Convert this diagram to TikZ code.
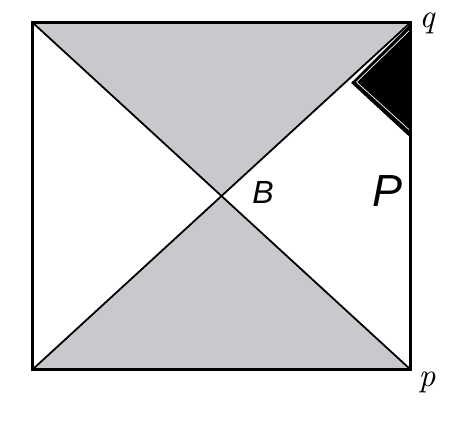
\documentclass[tikz,border=0pt]{standalone}
\usepackage{fontspec}
\newfontfamily\labelfont{Liberation Sans}
\definecolor{regiongray}{RGB}{200,201,204}
\begin{document}
\begin{tikzpicture}[x=1pt,y=-1pt,
  frame/.style={line width=3.4pt,line join=miter},
  diag/.style={line width=1.8pt},
  mathlabel/.style={inner sep=0pt,scale=3.3,font=\itshape},
  sflabel/.style={inner sep=0pt}]
\useasboundingbox (0,0) rectangle (473,432);
\coordinate (tl) at (32.5,22.5);
\coordinate (tr) at (410.5,22.5);
\coordinate (bl) at (32.5,369.5);
\coordinate (br) at (410.5,369.5);
\coordinate (c) at (221.5,196);
\coordinate (tA) at (410.5,24);
\coordinate (tL) at (352,82);
\coordinate (tB) at (410.5,136);
\coordinate (wA) at (410.5,29.5);
\coordinate (wL) at (356.5,82);
\coordinate (wB) at (410.5,131);
% shaded triangles
\fill[regiongray] (tl) -- (tr) -- (c) -- cycle;
\fill[regiongray] (bl) -- (br) -- (c) -- cycle;
% diagonals
\draw[diag] (tl) -- (br);
\draw[diag] (bl) -- (tr);
% black corner triangle
\fill[black] (tA) -- (tL) -- (tB) -- cycle;
\draw[line width=2.6pt] (tL) -- (tB);
\draw[white,line width=0.7pt] (wA) -- (wL) -- (wB);
% frame
\draw[frame] (tl) rectangle (br);
% labels
\node[mathlabel] (q) at (427,23) {q};
\node[mathlabel] (p) at (427,382) {p};
\node[sflabel,font=\labelfont\itshape\fontsize{32}{32}\selectfont] (B) at (263,192) {B};
\node[sflabel,font=\labelfont\itshape\fontsize{45}{45}\selectfont] (P) at (388,191) {P};
\end{tikzpicture}
\end{document}
